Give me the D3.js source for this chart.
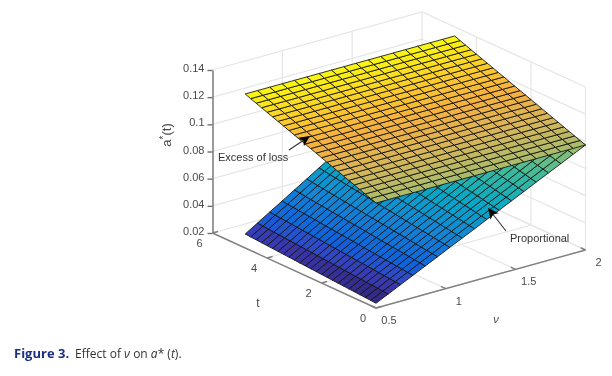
<!DOCTYPE html>
<html>
<head>
<meta charset="utf-8">
<script src="https://cdn.jsdelivr.net/npm/d3@7"></script>
<style>
	html, body { margin: 0; padding: 0; background: #fff; }
	svg { display: block; filter: blur(0.45px); }
	.tick-label { font-family: "Liberation Sans", sans-serif; font-size: 11px; fill: #4a4a4a; }
	.note { font-family: "Liberation Sans", sans-serif; font-size: 11px; fill: #333; }
	.caption { font-family: "Open Sans", "Noto Sans", sans-serif; font-size: 12px; fill: #333; }
</style>
</head>
<body>
<div class="svg-container"></div>
<script>
var tValues = [0, 0.2, 0.4, 0.6, 0.8, 1, 1.2, 1.4, 1.6, 1.8, 2, 2.2, 2.4, 2.6, 2.8, 3, 3.2, 3.4, 3.6, 3.8, 4, 4.2, 4.4, 4.6, 4.8];
var nuValues = [0.5, 0.588, 0.676, 0.765, 0.853, 0.941, 1.029, 1.118, 1.206, 1.294, 1.382, 1.471, 1.559, 1.647, 1.735, 1.824, 1.912, 2];

// Excess of loss does not move with nu, one reading per t
var excessByT = [0.0973, 0.0988, 0.1003, 0.1018, 0.1033, 0.1048, 0.1063, 0.1078, 0.1093, 0.1108, 0.1123, 0.1138, 0.1153, 0.1168, 0.1183, 0.1198, 0.1213, 0.1228, 0.1243, 0.1258, 0.1273, 0.1288, 0.1303, 0.1318, 0.1334];

// Proportional, read along the t = 0 edge and along the nu = 0.5 edge
var proportionalByNu = [0.0235, 0.0278, 0.0322, 0.0365, 0.0409, 0.0452, 0.0496, 0.0539, 0.0582, 0.0626, 0.0669, 0.0713, 0.0756, 0.08, 0.0843, 0.0886, 0.093, 0.0973];
var proportionalGrowthByT = [1, 1.012, 1.024, 1.036, 1.048, 1.06, 1.072, 1.084, 1.096, 1.108, 1.12, 1.132, 1.144, 1.156, 1.168, 1.18, 1.192, 1.204, 1.216, 1.228, 1.24, 1.252, 1.264, 1.277, 1.29];

var zTicks = [0.02, 0.04, 0.06, 0.08, 0.1, 0.12, 0.14];
var tTicks = [0, 2, 4, 6];
var nuTicks = [0.5, 1, 1.5, 2];

// Colormap stops, position between lowest and highest surface value
var colourStops = [0, 0.04, 0.08, 0.125, 0.25, 0.375, 0.5, 0.625, 0.75, 0.83, 0.9, 1];
var colourValues = ['#322a85', '#3a35a8', '#2f4ac8', '#0f63dc', '#1485d4', '#06a7c6', '#38b99e', '#92bf73', '#d8b558', '#f5b040', '#fcc82e', '#f9fb0e'];

var width = 612;
var height = 376;
var originX = 376;
var originY = 308;

var svg = d3.select('.svg-container')
	.append('svg')
	.attr('width', width)
	.attr('height', height);

// Oblique projection, each data axis moves the pixel along its own vector
var nuX = d3.scaleLinear().domain([0.5, 2]).range([0, 209.5]);
var nuY = d3.scaleLinear().domain([0.5, 2]).range([0, -58]);
var tX = d3.scaleLinear().domain([0, 6]).range([0, -163.5]);
var tY = d3.scaleLinear().domain([0, 6]).range([0, -75]);
var zScale = d3.scaleLinear().domain([0.02, 0.14]).range([0, -163]);

function project(nu, t, z) {
	return [
		originX + nuX(nu) + tX(t),
		originY + nuY(nu) + tY(t) + zScale(z)
	];
}

var colour = d3.scaleLinear()
	.domain(colourStops.map(function(s) {
		return 0.0235 + (0.1334 - 0.0235) * s;
	}))
	.range(colourValues);

var line = d3.line();

// Back walls and floor grid
var gridLines = [];
zTicks.forEach(function(z) {
	gridLines.push([project(0.5, 6, z), project(2, 6, z), project(2, 0, z)]);
});
nuTicks.slice(1).forEach(function(nu) {
	gridLines.push([project(nu, 0, 0.02), project(nu, 6, 0.02), project(nu, 6, 0.14)]);
});
tTicks.slice(0, 3).forEach(function(t) {
	gridLines.push([project(0.5, t, 0.02), project(2, t, 0.02), project(2, t, 0.14)]);
});

svg.append('g')
	.selectAll('path')
	.data(gridLines)
	.enter()
	.append('path')
	.attr('d', line)
	.attr('fill', 'none')
	.attr('stroke', '#e6e6e6')
	.attr('stroke-width', 1.2);

// Axes
var zAxisGroup = svg.append('g')
	.attr('transform', 'translate(' + project(0.5, 6, 0.02).join(',') + ')')
	.call(d3.axisLeft(zScale).tickValues(zTicks).tickSize(5).tickSizeOuter(0).tickPadding(3).tickFormat(d3.format('~g')));
zAxisGroup.selectAll('path, line').attr('stroke', '#707070').attr('stroke-width', 1.4);
zAxisGroup.selectAll('text').attr('class', 'tick-label').attr('font-family', null).attr('font-size', null).attr('dy', '0.15em');

var floorAxes = [
	[project(0.5, 6, 0.02), project(0.5, 0, 0.02)],
	[project(0.5, 0, 0.02), project(2, 0, 0.02)]
];
tTicks.forEach(function(t) {
	floorAxes.push([project(0.5, t, 0.02), project(0.54, t, 0.02)]);
});
nuTicks.forEach(function(nu) {
	floorAxes.push([project(nu, 0, 0.02), project(nu, 0.18, 0.02)]);
});
svg.append('g')
	.selectAll('path')
	.data(floorAxes)
	.enter()
	.append('path')
	.attr('d', line)
	.attr('fill', 'none')
	.attr('stroke', '#808080')
	.attr('stroke-width', 1.4);

svg.append('g')
	.selectAll('text')
	.data(tTicks)
	.enter()
	.append('text')
	.attr('class', 'tick-label')
	.attr('text-anchor', 'middle')
	.attr('x', function(d) { return project(0.5, d, 0.02)[0] - 13; })
	.attr('y', function(d) { return project(0.5, d, 0.02)[1] + 14; })
	.text(function(d) { return d; });

svg.append('g')
	.selectAll('text')
	.data(nuTicks)
	.enter()
	.append('text')
	.attr('class', 'tick-label')
	.attr('text-anchor', 'middle')
	.attr('x', function(d) { return project(d, 0, 0.02)[0] + 13; })
	.attr('y', function(d) { return project(d, 0, 0.02)[1] + 16; })
	.text(function(d) { return d; });

// Build the two surfaces from the readings
var proportional = tValues.map(function(t, i) {
	return nuValues.map(function(nu, j) {
		return proportionalByNu[j] * proportionalGrowthByT[i];
	});
});
var excess = tValues.map(function(t, i) {
	return nuValues.map(function() {
		return excessByT[i];
	});
});

function drawSurface(surface) {
	var cells = [];
	for (var i = 0; i < tValues.length - 1; i++) {
		for (var j = 0; j < nuValues.length - 1; j++) {
			cells.push({
				value: surface[i][j],
				points: [
					project(nuValues[j], tValues[i], surface[i][j]),
					project(nuValues[j + 1], tValues[i], surface[i][j + 1]),
					project(nuValues[j + 1], tValues[i + 1], surface[i + 1][j + 1]),
					project(nuValues[j], tValues[i + 1], surface[i + 1][j])
				]
			});
		}
	}
	svg.append('g')
		.selectAll('path')
		.data(cells)
		.enter()
		.append('path')
		.attr('d', function(d) { return line(d.points) + 'Z'; })
		.attr('fill', function(d) { return colour(d.value); })
		.attr('stroke', '#111')
		.attr('stroke-width', 0.85);
}

drawSurface(proportional);
drawSurface(excess);

// Axis titles
svg.append('text')
	.attr('class', 'tick-label')
	.attr('transform', 'translate(171, 135) rotate(-90)')
	.attr('text-anchor', 'middle')
	.style('font-size', '13px')
	.html('a<tspan dy="-4" font-size="10">*</tspan><tspan dy="4">(t)</tspan>');
svg.append('text')
	.attr('class', 'tick-label')
	.attr('x', 258)
	.attr('y', 307)
	.attr('text-anchor', 'middle')
	.style('font-size', '12px')
	.text('t');
svg.append('text')
	.attr('class', 'tick-label')
	.attr('x', 496)
	.attr('y', 323)
	.attr('text-anchor', 'middle')
	.attr('font-style', 'italic')
	.text('ν');

// Annotations
function drawArrow(x1, y1, x2, y2) {
	var angle = Math.atan2(y2 - y1, x2 - x1);
	svg.append('line')
		.attr('x1', x1)
		.attr('y1', y1)
		.attr('x2', x2 - 6 * Math.cos(angle))
		.attr('y2', y2 - 6 * Math.sin(angle))
		.attr('stroke', '#333')
		.attr('stroke-width', 1.1);
	var head = [-0.45, 0.45].map(function(spread) {
		return [x2 - 12 * Math.cos(angle + spread), y2 - 12 * Math.sin(angle + spread)];
	});
	svg.append('path')
		.attr('d', line([[x2, y2], head[0], [x2 - 8 * Math.cos(angle), y2 - 8 * Math.sin(angle)], head[1]]) + 'Z')
		.attr('fill', '#000');
}
drawArrow(289, 150, 310, 136);
drawArrow(506, 231, 488, 208);
svg.append('text').attr('class', 'note').attr('x', 218).attr('y', 161).text('Excess of loss');
svg.append('text').attr('class', 'note').attr('x', 510).attr('y', 242).text('Proportional');

// Caption
var caption = svg.append('text').attr('class', 'caption').attr('x', 14).attr('y', 358);
caption.append('tspan').attr('font-weight', 'bold').style('fill', '#1c2f80').style('font-size', '13px').text('Figure  3.');
caption.append('tspan').attr('dx', 6).text('Effect of ');
caption.append('tspan').attr('font-style', 'italic').text('ν');
caption.append('tspan').text(' on ');
caption.append('tspan').attr('font-style', 'italic').text('a');
caption.append('tspan').text('* (');
caption.append('tspan').attr('font-style', 'italic').text('t');
caption.append('tspan').text(').');
</script>
</body>
</html>
